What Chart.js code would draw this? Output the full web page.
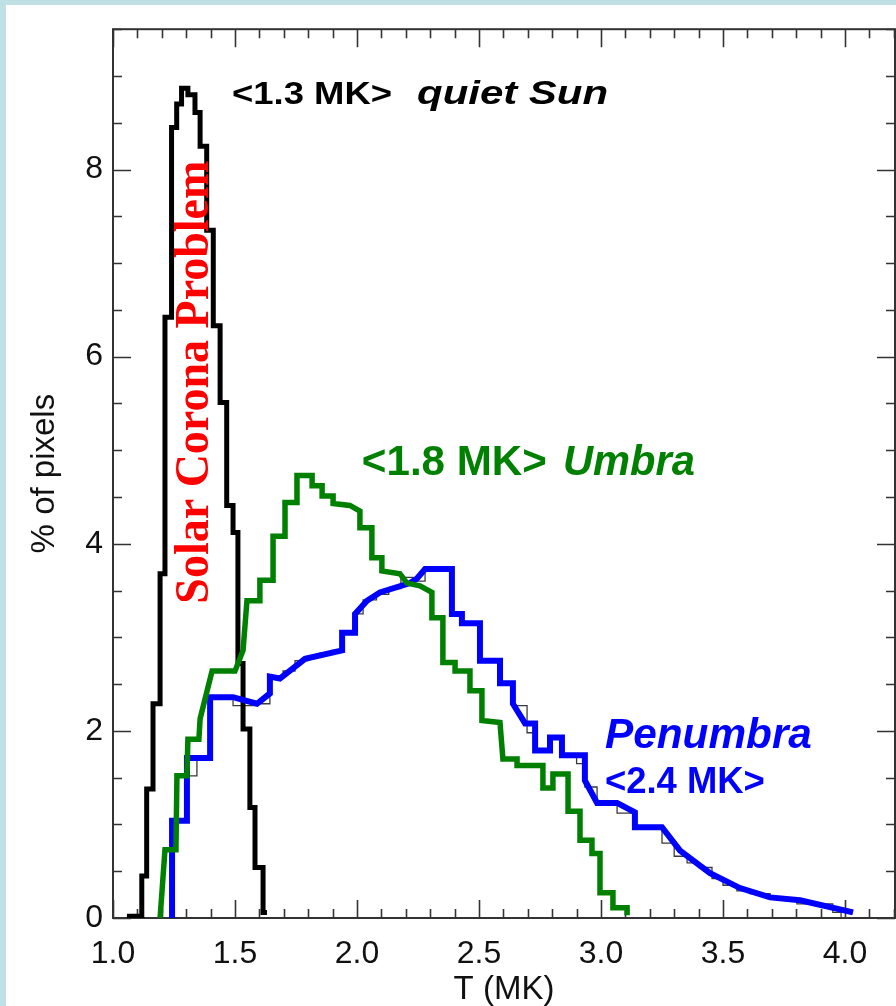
<!DOCTYPE html>
<html>
<head>
<meta charset="utf-8">
<title>Temperature distributions</title>
<script src="https://cdn.jsdelivr.net/npm/chart.js@4.4.0/dist/chart.umd.min.js"></script>
<style>
  html, body { margin: 0; padding: 0; background: #bfe1e5; }
  canvas { display: block; }
</style>
</head>
<body>
<canvas id="chart" width="896" height="1006"></canvas>
<script>
// quiet Sun histogram: left bin edges (MK) and % of pixels
const quietT = [1.057, 1.118, 1.138, 1.164, 1.193, 1.213, 1.240, 1.261, 1.281, 1.307, 1.336, 1.357,
    1.384, 1.411, 1.439, 1.466, 1.492, 1.512, 1.533, 1.561, 1.582, 1.615, 1.631];
const quietP = [0.02, 0.45, 1.38, 2.29, 3.68, 6.42, 8.45, 8.70, 8.87, 8.80, 8.61, 8.25,
    7.35, 6.33, 5.51, 4.41, 4.12, 2.72, 2.02, 1.18, 0.54, 0.06, 0.06];

// Umbra curve (MK, % of pixels)
const umbraT = [1.193, 1.213, 1.258, 1.262, 1.303, 1.307, 1.352, 1.357, 1.406, 1.500, 1.533, 1.549,
    1.602, 1.602, 1.656, 1.656, 1.705, 1.705, 1.754, 1.754, 1.816, 1.816, 1.857, 1.857, 1.902, 1.902,
    1.971, 2.012, 2.012, 2.061, 2.061, 2.102, 2.102, 2.176, 2.205, 2.258, 2.307, 2.307, 2.352, 2.352,
    2.402, 2.402, 2.463, 2.463, 2.512, 2.512, 2.586, 2.598, 2.656, 2.656, 2.762, 2.762, 2.803, 2.803,
    2.865, 2.865, 2.914, 2.914, 2.963, 2.963, 2.996, 2.996, 3.049, 3.049, 3.107, 3.107];
const umbraP = [0.00, 0.73, 0.73, 1.52, 1.52, 1.91, 1.91, 2.13, 2.64, 2.64, 2.86, 3.39,
    3.39, 3.61, 3.61, 4.08, 4.08, 4.44, 4.44, 4.73, 4.73, 4.62, 4.62, 4.51, 4.51, 4.43,
    4.41, 4.35, 4.17, 4.17, 3.85, 3.85, 3.71, 3.68, 3.58, 3.55, 3.48, 3.21, 3.21, 2.73,
    2.73, 2.64, 2.64, 2.43, 2.43, 2.11, 2.09, 1.70, 1.70, 1.63, 1.63, 1.39, 1.39, 1.54,
    1.54, 1.14, 1.14, 0.83, 0.83, 0.69, 0.69, 0.27, 0.27, 0.11, 0.11, 0.03];

// Penumbra curve (MK, % of pixels)
const penT = [1.242, 1.242, 1.303, 1.303, 1.398, 1.398, 1.492, 1.590, 1.643, 1.643, 1.684, 1.787,
    1.939, 1.939, 1.992, 1.992, 2.041, 2.094, 2.217, 2.246, 2.279, 2.389, 2.389, 2.430, 2.430, 2.504,
    2.504, 2.586, 2.586, 2.639, 2.639, 2.689, 2.730, 2.730, 2.791, 2.791, 2.840, 2.840, 2.934, 2.934,
    2.984, 3.066, 3.139, 3.139, 3.250, 3.324, 3.447, 3.570, 3.693, 3.816, 4.033];
const penP = [0.00, 1.04, 1.04, 1.71, 1.71, 2.36, 2.36, 2.29, 2.40, 2.58, 2.56, 2.77,
    2.86, 3.05, 3.05, 3.25, 3.39, 3.48, 3.58, 3.63, 3.73, 3.73, 3.25, 3.25, 3.15, 3.15,
    2.75, 2.75, 2.51, 2.51, 2.29, 2.08, 2.08, 1.79, 1.79, 1.93, 1.93, 1.74, 1.74, 1.47,
    1.23, 1.23, 1.13, 0.97, 0.97, 0.72, 0.48, 0.32, 0.22, 0.19, 0.06];

// Penumbra histogram underneath (left bin edges, % of pixels)
const penHistT = [1.236, 1.242, 1.303, 1.344, 1.398, 1.492, 1.533, 1.590, 1.643, 1.697, 1.746, 1.799,
    1.848, 1.898, 1.939, 1.992, 2.025, 2.080, 2.130, 2.180, 2.230, 2.279, 2.389, 2.430, 2.504, 2.586,
    2.639, 2.697, 2.730, 2.791, 2.840, 2.900, 2.934, 2.984, 3.066, 3.139, 3.195, 3.250, 3.300, 3.353,
    3.400, 3.455, 3.500, 3.557, 3.610, 3.693, 3.754, 3.803, 3.950, 3.984, 4.033];
const penHistP = [0.00, 1.04, 1.52, 1.71, 2.36, 2.27, 2.27, 2.29, 2.58, 2.64, 2.75, 2.80,
    2.83, 2.86, 3.05, 3.25, 3.40, 3.46, 3.52, 3.64, 3.60, 3.73, 3.25, 3.15, 2.75, 2.51,
    2.27, 1.98, 1.79, 1.93, 1.74, 1.65, 1.40, 1.23, 1.12, 0.97, 0.97, 0.80, 0.66, 0.59,
    0.54, 0.42, 0.35, 0.29, 0.26, 0.21, 0.19, 0.15, 0.06, 0.00, 0.00];

// tick labels
const xTicks = [1.0, 1.5, 2.0, 2.5, 3.0, 3.5, 4.0];
const yTicks = [0, 2, 4, 6, 8];

// text labels placed in data coordinates (left end, baseline)
const notes = [
    { text: '<1.3 MK>', t: 1.488, p: 8.70, font: 'bold 31px "Liberation Sans"', color: '#000', width: 160 },
    { text: 'quiet Sun', t: 2.246, p: 8.70, font: 'italic bold 34px "Liberation Sans"', color: '#000', width: 191 },
    { text: '<1.8 MK>', t: 2.020, p: 4.73, font: 'bold 42px "Liberation Sans"', color: 'rgb(0,128,0)', width: 185 },
    { text: 'Umbra', t: 2.844, p: 4.73, font: 'italic bold 42px "Liberation Sans"', color: 'rgb(0,128,0)', width: 132 },
    { text: 'Penumbra', t: 3.016, p: 1.82, font: 'italic bold 42px "Liberation Sans"', color: '#0000ff', width: 207 },
    { text: '<2.4 MK>', t: 3.016, p: 1.34, font: 'bold 36px "Liberation Sans"', color: '#0000ff', width: 160 },
    { text: 'Solar Corona Problem', t: 1.389, p: 3.36, font: 'bold 48px "Liberation Serif"', color: '#ff0000', width: 443, rotate: true }
];

const pairs = (xs, ys) => xs.map((v, i) => ({ x: v, y: ys[i] }));

// light blue frame round the white page
const background = {
    id: 'background',
    beforeDraw(chart) {
        const ctx = chart.ctx;
        ctx.save();
        ctx.fillStyle = '#bfe1e5';
        ctx.fillRect(0, 0, chart.width, chart.height);
        ctx.fillStyle = '#ffffff';
        ctx.fillRect(6, 5, chart.width - 6, chart.height - 5);
        ctx.restore();
    }
};

// box with inward ticks on all four sides
const frame = {
    id: 'frame',
    beforeDatasetsDraw(chart) {
        const { ctx, chartArea: a, scales: { x, y } } = chart;
        ctx.save();
        ctx.strokeStyle = '#333';
        ctx.lineWidth = 2;
        ctx.strokeRect(a.left, a.top, a.right - a.left, a.bottom - a.top);
        ctx.lineWidth = 1.6;
        ctx.beginPath();
        for (let k = 10; k <= 42; k++) {
            const px = Math.round(x.getPixelForValue(k / 10)) + 0.5;
            const len = k % 5 === 0 ? 18 : 9;
            ctx.moveTo(px, a.bottom); ctx.lineTo(px, a.bottom - len);
            ctx.moveTo(px, a.top); ctx.lineTo(px, a.top + len);
        }
        for (let k = 0; k <= 19; k++) {
            const py = Math.round(y.getPixelForValue(k / 2)) + 0.5;
            const len = k % 4 === 0 ? 18 : 9;
            ctx.moveTo(a.left, py); ctx.lineTo(a.left + len, py);
            ctx.moveTo(a.right, py); ctx.lineTo(a.right - len, py);
        }
        ctx.stroke();
        ctx.restore();
    }
};

const labels = {
    id: 'labels',
    afterDatasetsDraw(chart) {
        const { ctx, scales: { x, y } } = chart;
        notes.forEach(n => {
            ctx.save();
            ctx.font = n.font;
            ctx.fillStyle = n.color;
            ctx.textBaseline = 'alphabetic';
            ctx.translate(x.getPixelForValue(n.t), y.getPixelForValue(n.p));
            // rotated label: baseline on the right, reading bottom to top
            if (n.rotate) ctx.rotate(-Math.PI / 2);
            const w = ctx.measureText(n.text).width;
            ctx.scale(n.width / w, 1);
            ctx.fillText(n.text, 0, 0);
            ctx.restore();
        });
    }
};

const tickFont = { family: 'Liberation Sans', size: 32 };

new Chart(document.getElementById('chart'), {
    type: 'line',
    data: {
        datasets: [
            { label: 'Umbra', data: pairs(umbraT, umbraP), borderColor: 'rgb(0,128,0)', borderWidth: 5.5 },
            { label: 'Penumbra', data: pairs(penT, penP), borderColor: '#0000ff', borderWidth: 6 },
            { label: 'quiet Sun', data: pairs(quietT, quietP), borderColor: '#000000', borderWidth: 5, stepped: 'before' },
            { label: 'Penumbra histogram', data: pairs(penHistT, penHistP), borderColor: '#3a3a3a', borderWidth: 1.3, stepped: 'before' }
        ]
    },
    options: {
        responsive: false,
        animation: false,
        layout: { padding: { left: 0, right: 1, top: 28, bottom: 0 } },
        elements: {
            point: { radius: 0 },
            line: { tension: 0, fill: false, borderJoinStyle: 'miter', borderCapStyle: 'butt' }
        },
        plugins: { legend: { display: false }, tooltip: { enabled: false } },
        scales: {
            x: {
                type: 'linear',
                min: 1.0,
                max: 4.205,
                afterFit: s => { s.height = 88; },
                afterBuildTicks: s => { s.ticks = xTicks.map(v => ({ value: v })); },
                grid: { display: false, drawTicks: false },
                border: { display: false },
                ticks: {
                    font: tickFont, color: '#111', padding: 17, maxRotation: 0, autoSkip: false,
                    callback: v => Number(v).toFixed(1)
                },
                title: {
                    display: true, text: 'T (MK)', color: '#111',
                    font: { family: 'Liberation Sans', size: 33, lineHeight: 1 },
                    padding: { top: 0, bottom: 0 }
                }
            },
            y: {
                type: 'linear',
                min: 0,
                max: 9.5,
                afterFit: s => { s.width = 113; },
                afterBuildTicks: s => { s.ticks = yTicks.map(v => ({ value: v })); },
                grid: { display: false, drawTicks: false },
                border: { display: false },
                ticks: { font: tickFont, color: '#111', padding: 10, autoSkip: false },
                title: {
                    display: true, text: '% of pixels', color: '#111',
                    font: { family: 'Liberation Sans', size: 33, lineHeight: 1 },
                    padding: { top: 28, bottom: 0 }
                }
            }
        }
    },
    plugins: [background, frame, labels]
});
</script>
</body>
</html>
